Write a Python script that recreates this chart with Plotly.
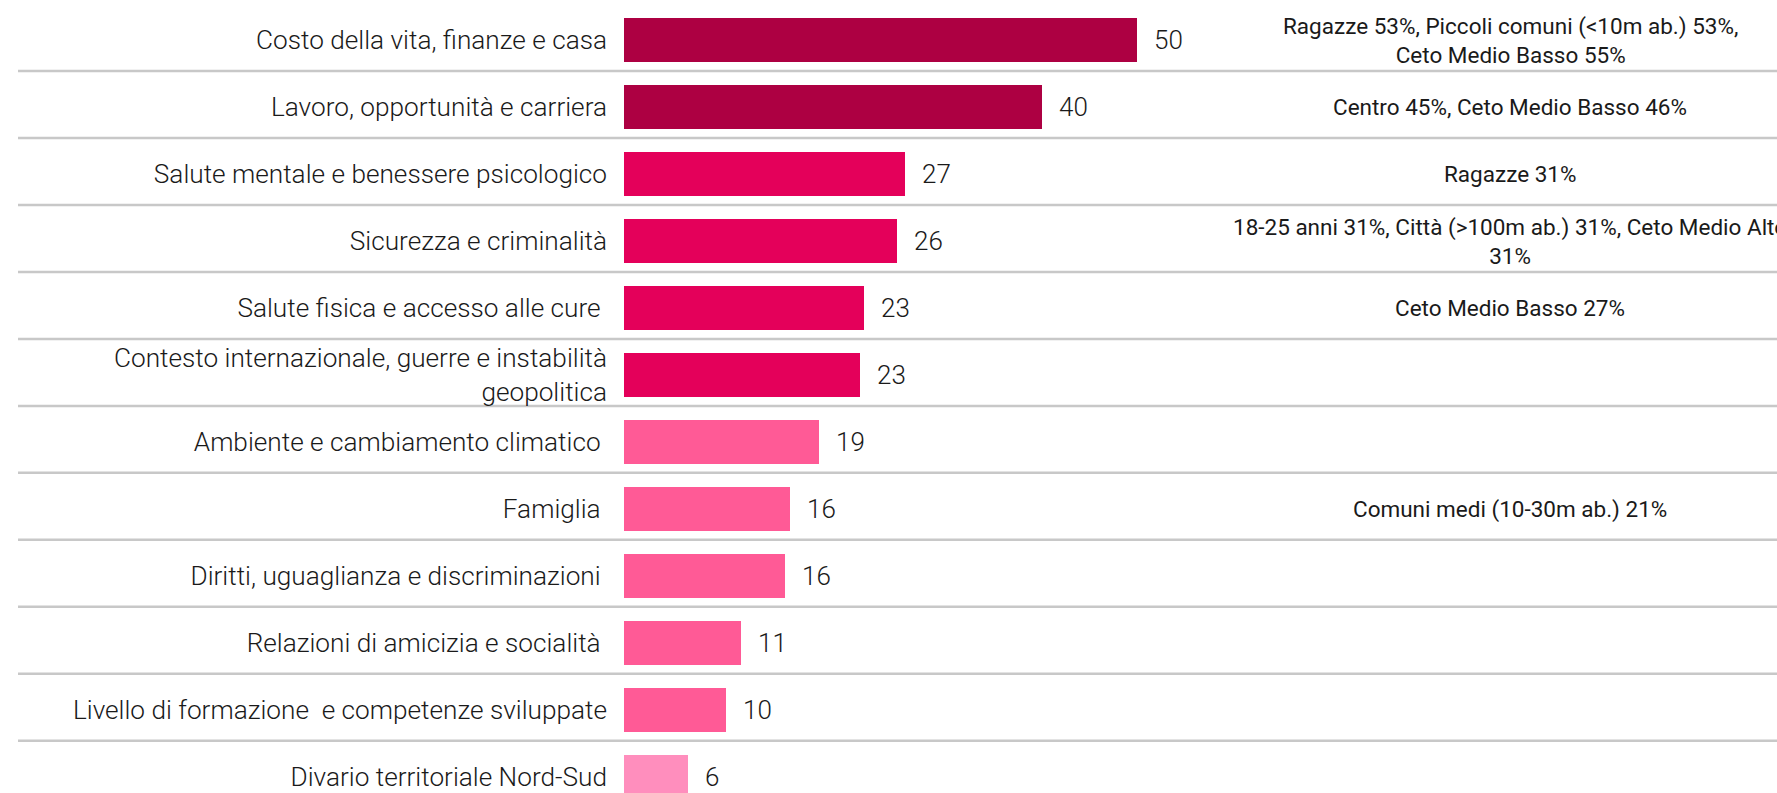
import plotly.graph_objects as go

categories = [
    "Costo della vita, finanze e casa",
    "Lavoro, opportunità e carriera",
    "Salute mentale e benessere psicologico",
    "Sicurezza e criminalità",
    "Salute fisica e accesso alle cure ",
    "Contesto internazionale, guerre e instabilità<br>geopolitica",
    "Ambiente e cambiamento climatico ",
    "Famiglia ",
    "Diritti, uguaglianza e discriminazioni ",
    "Relazioni di amicizia e socialità ",
    "Livello di formazione  e competenze sviluppate",
    "Divario territoriale Nord-Sud",
]
values = [49.6, 40.4, 27.2, 26.4, 23.2, 22.8, 18.8, 16.0, 15.6, 11.3, 9.9, 6.2]
value_labels = ["50", "40", "27", "26", "23", "23", "19", "16", "16", "11", "10", "6"]
colors = ["#AD0042", "#AD0042", "#E4005A", "#E4005A", "#E4005A", "#E4005A",
          "#FF5A96", "#FF5A96", "#FF5A96", "#FF5A96", "#FF5A96", "#FF8EBD"]
notes = [
    "Ragazze 53%, Piccoli comuni (<10m ab.) 53%,<br>Ceto Medio Basso 55%",
    "Centro 45%, Ceto Medio Basso 46%",
    "Ragazze 31%",
    "18-25 anni 31%, Città (>100m ab.) 31%, Ceto Medio Alto<br>31%",
    "Ceto Medio Basso 27%",
    "", "", "Comuni medi (10-30m ab.) 21%", "", "", "", "",
]

W, H = 1777, 793
FONT = "Roboto"
TXT = "#1a1a1a"
PX_PER_UNIT = 10.347

pos = list(range(len(categories)))

fig = go.Figure()
fig.add_trace(go.Bar(
    x=values, y=pos, orientation="h",
    marker=dict(color=colors, line=dict(width=0)),
    width=0.66, hoverinfo="skip",
))

for i, (v, t) in enumerate(zip(values, value_labels)):
    fig.add_annotation(x=v, y=i, xref="x", yref="y", text=t,
                       xanchor="left", yanchor="middle", xshift=15,
                       showarrow=False,
                       font=dict(family=FONT, size=26, color=TXT, weight=300))

for i, n in enumerate(notes):
    if n:
        fig.add_annotation(x=1510 / W, y=i, xref="paper", yref="y", text=n,
                           xanchor="center", yanchor="middle", align="center",
                           showarrow=False,
                           font=dict(family=FONT, size=22.5, color=TXT))

for i in range(len(categories) - 1):
    fig.add_shape(type="line", xref="paper", yref="y",
                  x0=18 / W, x1=1, y0=i + 0.46, y1=i + 0.46,
                  line=dict(color="#C8C8C8", width=2.5), layer="below")

fig.update_layout(
    width=W, height=H,
    margin=dict(l=0, r=0, t=0, b=0),
    paper_bgcolor="white", plot_bgcolor="white",
    showlegend=False, bargap=0,
    xaxis=dict(domain=[624 / W, 1], range=[0, 1153 / PX_PER_UNIT],
               showgrid=False, zeroline=False, showticklabels=False,
               showline=False, ticks=""),
    yaxis=dict(range=[11.24, -0.60], tickmode="array", tickvals=pos,
               ticktext=categories, showgrid=False, zeroline=False,
               showline=False, ticks="", ticklabelstandoff=16,
               ticklabeloverflow="allow",
               tickfont=dict(family=FONT, size=26.2, color=TXT, weight=300)),
)

fig.write_html("out.html")
